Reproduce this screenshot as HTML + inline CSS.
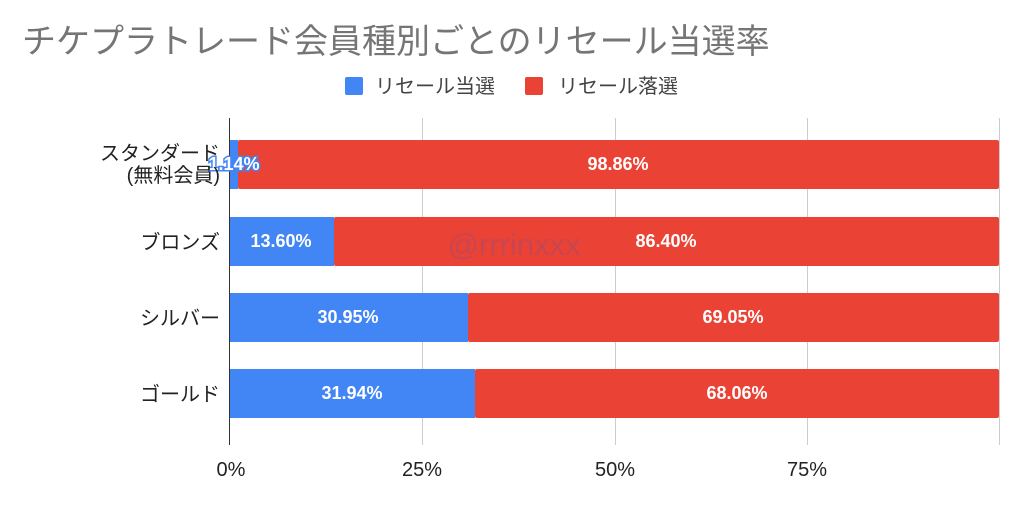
<!DOCTYPE html>
<html><head><meta charset="utf-8"><style>
html,body{margin:0;padding:0;background:#fff;}
svg text{font-family:"Liberation Sans","Noto Sans CJK JP",sans-serif;}
</style></head><body>
<svg width="1024" height="502" viewBox="0 0 1024 502" xmlns="http://www.w3.org/2000/svg">
<rect width="1024" height="502" fill="#fff"/>
<text x="22" y="53" font-size="34" fill="#757575">チケプラトレード会員種別ごとのリセール当選率</text>
<rect x="345" y="77" width="18" height="18" rx="2" fill="#4285f4"/>
<text x="375" y="93" font-size="20" fill="#444">リセール当選</text>
<rect x="525" y="77" width="18" height="18" rx="2" fill="#ea4335"/>
<text x="558" y="93" font-size="20" fill="#444">リセール落選</text>
<g stroke="#ccc" stroke-width="1">
<line x1="422.5" y1="118" x2="422.5" y2="445"/>
<line x1="615.5" y1="118" x2="615.5" y2="445"/>
<line x1="807.5" y1="118" x2="807.5" y2="445"/>
<line x1="999.5" y1="118" x2="999.5" y2="445"/>
</g>
<g>
<rect x="229" y="140" width="9" height="49" fill="#4285f4"/>
<rect x="238" y="140" width="761" height="49" rx="2" fill="#ea4335"/>
<rect x="229" y="217" width="105" height="49" fill="#4285f4"/>
<rect x="334" y="217" width="665" height="49" rx="2" fill="#ea4335"/>
<rect x="229" y="293" width="239" height="49" fill="#4285f4"/>
<rect x="468" y="293" width="531" height="49" rx="2" fill="#ea4335"/>
<rect x="229" y="369" width="246" height="49" fill="#4285f4"/>
<rect x="475" y="369" width="524" height="49" rx="2" fill="#ea4335"/>
</g>
<text x="514" y="255" font-size="31" fill="#8a4a8a" fill-opacity="0.35" text-anchor="middle">@rrrinxxx</text>
<line x1="229.5" y1="118" x2="229.5" y2="445" stroke="#333" stroke-width="1"/>
<g font-size="18" font-weight="bold" fill="#fff" text-anchor="middle">
<text x="234" y="170" stroke="#4285f4" stroke-width="3" paint-order="stroke">1.14%</text>
<text x="618" y="170">98.86%</text>
<text x="281" y="247">13.60%</text>
<text x="666" y="247">86.40%</text>
<text x="348" y="323">30.95%</text>
<text x="733" y="323">69.05%</text>
<text x="352" y="399">31.94%</text>
<text x="737" y="399">68.06%</text>
</g>
<g font-size="20" fill="#222" text-anchor="end">
<text x="220" y="160">スタンダード</text>
<text x="220" y="182">(無料会員)</text>
<text x="220" y="249">ブロンズ</text>
<text x="220" y="325">シルバー</text>
<text x="220" y="401">ゴールド</text>
</g>
<g font-size="20" fill="#222" text-anchor="middle">
<text x="231" y="476">0%</text>
<text x="422" y="476">25%</text>
<text x="615" y="476">50%</text>
<text x="807" y="476">75%</text>
</g>
</svg>
</body></html>
